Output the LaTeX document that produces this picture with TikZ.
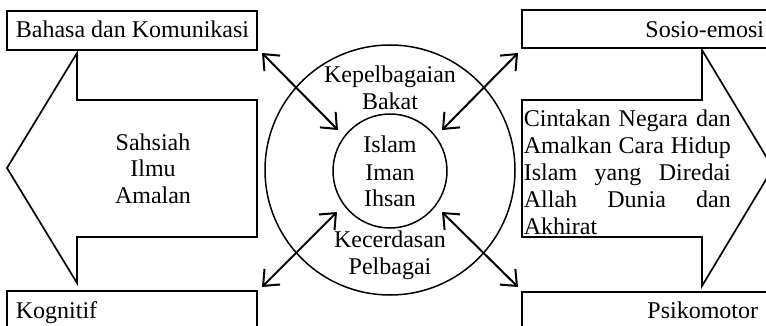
\documentclass[tikz,border=0pt]{standalone}
\usepackage{fontspec}
\setmainfont{Liberation Serif}
\usetikzlibrary{arrows.meta}
\begin{document}
\begin{tikzpicture}[x=1pt,y=-1pt,line width=1.7pt,
  txt/.style={inner sep=0pt,font=\fontsize{24}{27}\selectfont,anchor=base},
  txtl/.style={txt,anchor=base west},
  txtr/.style={txt,anchor=base east},
  boxshape/.style={draw,line width=1.9pt},
  dbl/.style={{Straight Barb[length=13pt,width=22pt,line width=2pt]}-{Straight Barb[length=13pt,width=22pt,line width=2pt]},line width=2pt}]
\useasboundingbox (0,0) rectangle (766,326);
\clip (0,0) rectangle (766,326);
% boxes
\draw[boxshape] (7,11) rectangle (257,50);
\draw[boxshape] (7,291) rectangle (257,340);
\draw[boxshape] (522,10) rectangle (790,48);
\draw[boxshape] (522,292) rectangle (790,340);
\node[txtl] (bahasa) at (15,38) {Bahasa dan Komunikasi};
\node[txtl] (kognitif) at (15,318) {Kognitif};
\node[txtr] (sosio) at (765,38) {Sosio-emosi};
\node[txtr] (psiko) at (759,318) {Psikomotor};
% big arrows
\draw[line join=miter] (77,53) -- (77,100) -- (257,100) -- (257,237) -- (77,237) -- (77,283) -- (7,168) -- cycle;
\draw[line join=miter] (702,50) -- (702,100) -- (522,100) -- (522,237) -- (702,237) -- (702,286) -- (773,168) -- cycle;
\node[txt] (sahsiah) at (153,150) {Sahsiah};
\node[txt] (ilmu) at (153,177) {Ilmu};
\node[txt] (amalan) at (153,204) {Amalan};
\node[anchor=north west,inner sep=0pt,text width=207pt,align=justify,
  font=\fontsize{24}{27}\selectfont] (cinta) at (523,108.6)
  {\hyphenpenalty=10000 \tolerance=10000 Cintakan Negara dan\linebreak Amalkan Cara Hidup\linebreak Islam yang Diredai\linebreak Allah Dunia dan\linebreak Akhirat};
% circles
\node[draw,circle,minimum size=250pt,inner sep=0pt,line width=1.5pt] (outer) at (390,170) {};
\node[draw,circle,minimum size=114pt,inner sep=0pt,line width=1.5pt] (inner) at (390,171) {};
\node[txt] (kep) at (390,83) {Kepelbagaian};
\node[txt] (bakat) at (390,110) {Bakat};
\node[txt] (islam) at (390,153) {Islam};
\node[txt] (iman) at (390,180) {Iman};
\node[txt] (ihsan) at (390,207) {Ihsan};
\node[txt] (kec) at (390,247) {Kecerdasan};
\node[txt] (pel) at (390,274) {Pelbagai};
% double arrows
\coordinate (tl1) at (262,53); \coordinate (tl2) at (338,130);
\coordinate (tr1) at (518,53); \coordinate (tr2) at (442,130);
\coordinate (bl1) at (262,287); \coordinate (bl2) at (337,212);
\coordinate (br1) at (518,287); \coordinate (br2) at (442,212);
\draw[dbl] (tl1) -- (tl2);
\draw[dbl] (tr1) -- (tr2);
\draw[dbl] (bl1) -- (bl2);
\draw[dbl] (br1) -- (br2);
\end{tikzpicture}
\end{document}
